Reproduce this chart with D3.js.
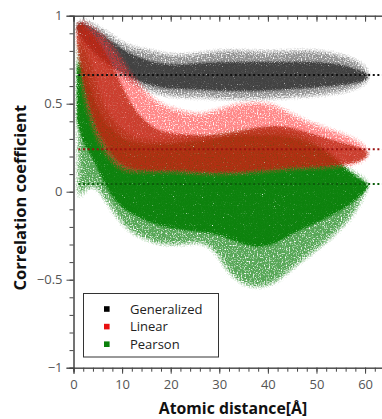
<!DOCTYPE html>
<html><head><meta charset="utf-8">
<script src="https://cdn.jsdelivr.net/npm/d3@7"></script>
<style>body{margin:0;background:#fff;overflow:hidden} svg text{font-family:"Open Sans",sans-serif}</style>
</head><body><svg id="c" width="382" height="419"></svg>
<script>
// ---- data ----
const seriesNames = ["Generalized", "Linear", "Pearson"];
const meanLines = [0.663, 0.241, 0.044];
const xTicks = [0, 10, 20, 30, 40, 50, 60];
const xMinor = d3.range(0, 64.1, 2);
const yTicks = [-1, -0.5, 0, 0.5, 1];
const yTickLabels = ["\u22121", "\u22120.5", "0", "0.5", "1"];
const yMinor = d3.range(-10, 10.1, 1).map(v => v / 10);

// Generalized cloud envelopes (distance, outer low/high, dense core low/high)
const genDist   = [1, 2, 4, 6, 8, 10, 13, 16, 20, 25, 30, 35, 40, 45, 50, 54, 57, 59, 60.5];
const genOutLo  = [0.90, 0.84, 0.78, 0.73, 0.69, 0.65, 0.60, 0.57, 0.54, 0.54, 0.53, 0.53, 0.53, 0.54, 0.55, 0.56, 0.58, 0.60, 0.63];
const genOutHi  = [0.97, 0.98, 0.95, 0.92, 0.88, 0.84, 0.81, 0.80, 0.77, 0.78, 0.80, 0.80, 0.79, 0.80, 0.80, 0.78, 0.76, 0.73, 0.69];
const genCoreLo = [0.92, 0.87, 0.81, 0.76, 0.72, 0.68, 0.64, 0.61, 0.59, 0.59, 0.58, 0.58, 0.58, 0.59, 0.60, 0.61, 0.62, 0.63, 0.65];
const genCoreHi = [0.96, 0.95, 0.92, 0.88, 0.84, 0.80, 0.76, 0.73, 0.71, 0.72, 0.73, 0.73, 0.73, 0.73, 0.73, 0.72, 0.70, 0.68, 0.66];

// Linear cloud envelopes
const linDist   = [1, 2, 3, 4, 5, 6, 8, 10, 12, 15, 18, 22, 26, 30, 34, 38, 42, 46, 50, 54, 57, 59, 60.5];
const linOutLo  = [0.80, 0.55, 0.45, 0.36, 0.29, 0.24, 0.16, 0.12, 0.11, 0.11, 0.11, 0.11, 0.10, 0.10, 0.10, 0.11, 0.12, 0.13, 0.13, 0.14, 0.15, 0.17, 0.20];
const linOutHi  = [0.97, 0.97, 0.95, 0.93, 0.91, 0.89, 0.83, 0.75, 0.66, 0.56, 0.49, 0.46, 0.43, 0.47, 0.50, 0.51, 0.49, 0.42, 0.38, 0.34, 0.31, 0.28, 0.24];
const linCoreLo = [0.86, 0.66, 0.55, 0.45, 0.37, 0.31, 0.22, 0.16, 0.14, 0.13, 0.13, 0.13, 0.12, 0.12, 0.12, 0.13, 0.14, 0.15, 0.15, 0.16, 0.17, 0.18, 0.21];
const linCoreHi = [0.96, 0.94, 0.91, 0.88, 0.85, 0.80, 0.70, 0.58, 0.47, 0.38, 0.33, 0.32, 0.31, 0.31, 0.33, 0.36, 0.37, 0.35, 0.31, 0.28, 0.26, 0.24, 0.22];

// Pearson cloud envelopes
const peaDist   = [1, 2, 3, 4, 5, 6, 8, 10, 12, 15, 18, 22, 26, 29, 31, 33, 36, 39, 42, 45, 49, 53, 56, 58, 59.5, 60.5];
const peaOutLo  = [-0.05, 0.00, 0.03, 0.04, 0.02, -0.02, -0.10, -0.18, -0.23, -0.27, -0.30, -0.30, -0.28, -0.32, -0.42, -0.49, -0.54, -0.54, -0.51, -0.43, -0.35, -0.26, -0.18, -0.11, -0.03, 0.03];
const peaOutHi  = [0.88, 0.84, 0.78, 0.68, 0.58, 0.50, 0.41, 0.35, 0.31, 0.29, 0.29, 0.30, 0.31, 0.32, 0.33, 0.34, 0.35, 0.35, 0.35, 0.34, 0.30, 0.22, 0.14, 0.10, 0.08, 0.05];
const peaCoreLo = [0.40, 0.30, 0.25, 0.20, 0.15, 0.08, -0.02, -0.08, -0.12, -0.16, -0.19, -0.21, -0.22, -0.23, -0.25, -0.27, -0.30, -0.31, -0.28, -0.23, -0.18, -0.13, -0.08, -0.04, 0.00, 0.03];
const peaCoreHi = [0.75, 0.68, 0.60, 0.52, 0.45, 0.40, 0.34, 0.29, 0.27, 0.26, 0.26, 0.27, 0.28, 0.29, 0.30, 0.31, 0.31, 0.31, 0.31, 0.30, 0.27, 0.20, 0.12, 0.08, 0.05, 0.04];

// ---- drawing ----
const svg = d3.select("#c");
const x = d3.scaleLinear().domain([0, 64]).range([73.5, 384.5]);
const y = d3.scaleLinear().domain([-1, 1]).range([367.7, 15.7]);

const defs = svg.append("defs");
defs.append("clipPath").attr("id", "clip").append("rect")
  .attr("x", x(0)).attr("y", y(1)).attr("width", x(64) - x(0)).attr("height", y(-1) - y(1));

// grainy (scatter-like) edge filter: blurred shape masked by noise, then alpha threshold
function grain(id, blur, seed, freq, slope, icpt) {
  const f = defs.append("filter").attr("id", id)
    .attr("x", "-15%").attr("y", "-15%").attr("width", "130%").attr("height", "130%")
    .attr("color-interpolation-filters", "sRGB");
  f.append("feGaussianBlur").attr("in", "SourceGraphic").attr("stdDeviation", blur).attr("result", "b");
  f.append("feTurbulence").attr("type", "fractalNoise").attr("baseFrequency", freq)
    .attr("numOctaves", 1).attr("seed", seed).attr("result", "n");
  f.append("feColorMatrix").attr("in", "n").attr("type", "matrix")
    .attr("values", "0 0 0 0 0  0 0 0 0 0  0 0 0 0 0  1.6 0 0 0 -0.3").attr("result", "m");
  f.append("feComposite").attr("in", "b").attr("in2", "m").attr("operator", "in").attr("result", "p");
  const ct = f.append("feComponentTransfer").attr("in", "p");
  ct.append("feFuncA").attr("type", "linear").attr("slope", slope).attr("intercept", icpt);
}
grain("gOut", 3.6, 3, 0.75, 2.6, -0.22);
grain("gCore", 2.2, 7, 0.9, 5.0, -0.15);

const plot = svg.append("g").attr("clip-path", "url(#clip)");

function band(dist, lo, hi) {
  return d3.area().curve(d3.curveBasis)
    .x((d, i) => x(dist[i])).y0((d, i) => y(lo[i])).y1((d, i) => y(hi[i]))(dist);
}

const layers = [
  {d: band(genDist, genOutLo, genOutHi), fill: "#4a4a4a", op: 0.6, f: "gOut"},
  {d: band(genDist, genCoreLo, genCoreHi), fill: "#343434", op: 0.85, f: "gCore"},
  {d: band(peaDist, peaOutLo, peaOutHi), fill: "#1f8a1f", op: 0.75, f: "gOut"},
  {d: band(peaDist, peaCoreLo, peaCoreHi), fill: "#0a800a", op: 0.95, f: "gCore"},
  {d: band(linDist, linOutLo, linOutHi), fill: "#ff3a3a", op: 0.6, f: "gOut"},
  {d: band(linDist, linCoreLo, linCoreHi), fill: "#b8220c", op: 0.72, f: "gCore"}
];
plot.selectAll("g.cloud").data(layers).join("g").attr("class", "cloud")
  .attr("opacity", d => d.op)
  .append("path").attr("d", d => d.d).attr("fill", d => d.fill)
  .attr("filter", d => `url(#${d.f})`);

// mean dotted lines
const lineColors = ["#111", "#9a1010", "#0b5e0b"];
svg.selectAll("line.mean").data(meanLines).join("line").attr("class", "mean")
  .attr("x1", x(1)).attr("x2", 382).attr("y1", d => y(d)).attr("y2", d => y(d))
  .attr("stroke", (d, i) => lineColors[i]).attr("stroke-width", 2).attr("stroke-dasharray", "2,2.6");

// axes
const axisColor = "#444", labColor = "#555";
function styleAxis(g) {
  g.select(".domain").attr("stroke", axisColor);
  g.selectAll(".tick line").attr("stroke", axisColor);
  g.selectAll(".tick text").attr("fill", labColor).style("font-size", "13px");
}
svg.append("g").attr("transform", `translate(0,${y(-1)})`)
  .call(d3.axisBottom(x).tickValues(xMinor).tickSize(4).tickFormat("")).call(styleAxis);
svg.append("g").attr("transform", `translate(0,${y(-1)})`)
  .call(d3.axisBottom(x).tickValues(xTicks).tickSize(6).tickPadding(6)).call(styleAxis);
svg.append("g").attr("transform", `translate(0,${y(1)})`)
  .call(d3.axisTop(x).tickValues(xMinor).tickSize(-4).tickFormat("")).call(styleAxis);
svg.append("g").attr("transform", `translate(0,${y(1)})`)
  .call(d3.axisTop(x).tickValues(xTicks).tickSize(-6).tickFormat("")).call(styleAxis);
svg.append("g").attr("transform", `translate(${x(0)},0)`)
  .call(d3.axisLeft(y).tickValues(yMinor).tickSize(4).tickFormat("")).call(styleAxis);
svg.append("g").attr("transform", `translate(${x(0)},0)`)
  .call(d3.axisLeft(y).tickValues(yTicks).tickSize(7).tickPadding(4)
    .tickFormat((d, i) => yTickLabels[i])).call(styleAxis);

// axis titles
svg.append("text").attr("transform", `translate(26,${(y(1) + y(-1)) / 2 + 6}) rotate(-90)`)
  .attr("text-anchor", "middle").attr("font-weight", "bold").attr("font-size", 16.5).attr("fill", "#111")
  .text("Correlation coefficient");
svg.append("text").attr("x", 233).attr("y", 414)
  .attr("text-anchor", "middle").attr("font-weight", "bold").attr("font-size", 15.8).attr("fill", "#111")
  .text("Atomic distance[\u00C5]");

// legend
const legendColors = ["#000", "#e81010", "#0a800a"];
const lg = svg.append("g");
lg.append("rect").attr("x", 83.5).attr("y", 293.5).attr("width", 135).attr("height", 63.5)
  .attr("fill", "#fff").attr("stroke", "#333").attr("stroke-width", 1);
const rows = lg.selectAll("g.row").data(seriesNames).join("g").attr("class", "row")
  .attr("transform", (d, i) => `translate(0,${309 + i * 17.6})`);
rows.append("rect").attr("x", 104).attr("y", -2.8).attr("width", 5.6).attr("height", 5.6)
  .attr("fill", (d, i) => legendColors[i]);
rows.append("text").attr("x", 130).attr("y", 4.5).attr("font-size", 13).attr("fill", "#222").text(d => d);
</script></body></html>
